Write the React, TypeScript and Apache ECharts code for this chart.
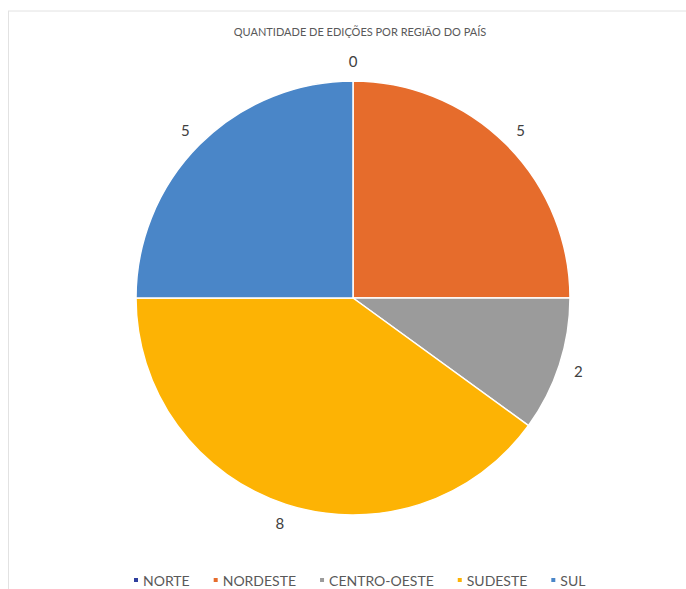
import React, { useEffect, useRef } from "react";
import * as echarts from "echarts";

const TITLE = "QUANTIDADE DE EDIÇÕES POR REGIÃO DO PAÍS";
const categories = ["NORTE", "NORDESTE", "CENTRO-OESTE", "SUDESTE", "SUL"];
const values = [0, 5, 2, 8, 5];
const colors = ["#2f3f9e", "#e66c2c", "#9b9b9b", "#fdb304", "#4a86c8"];

export default function App() {
  const ref = useRef<HTMLDivElement>(null);
  useEffect(() => {
    if (!ref.current) return;
    const chart = echarts.init(ref.current, null, { renderer: "svg" });
    const font = "Lato, 'Open Sans', sans-serif";
    chart.setOption({
      animation: false,
      backgroundColor: "#ffffff",
      color: colors,
      title: {
        text: TITLE,
        left: 355,
        top: 21,
        textAlign: "center",
        textStyle: { fontFamily: font, fontSize: 11, fontWeight: "normal", color: "#595959" },
      },
      legend: {
        data: categories,
        left: 127,
        top: 568,
        icon: "rect",
        itemWidth: 6,
        itemHeight: 6,
        itemGap: 22,
        textStyle: { fontFamily: font, fontSize: 14, color: "#595959", padding: [0, 0, 0, -1] },
      },
      graphic: [
        { type: "line", shape: { x1: 8, y1: 11, x2: 686, y2: 11 }, style: { stroke: "#e2e2e2", lineWidth: 1 } },
        { type: "line", shape: { x1: 8.5, y1: 11, x2: 8.5, y2: 589 }, style: { stroke: "#e2e2e2", lineWidth: 1 } },
      ],
      series: [
        {
          type: "pie",
          center: [353, 298],
          radius: 217,
          startAngle: 90,
          clockwise: true,
          avoidLabelOverlap: false,
          itemStyle: { borderColor: "#ffffff", borderWidth: 1.5 },
          label: {
            show: true,
            position: "outside",
            formatter: "{c}",
            fontFamily: font,
            fontSize: 15,
            color: "#404040",
          },
          labelLine: { show: true, length: 20, length2: 0, lineStyle: { opacity: 0, width: 0 } },
          labelLayout: (p: any) => {
            const pts = p.labelLinePoints;
            if (!pts || !pts[1]) return {};
            return { x: pts[1][0], y: pts[1][1], align: "center", verticalAlign: "middle" };
          },
          emphasis: { disabled: true },
          data: categories.map((name, i) => ({ name, value: values[i] })),
        },
      ],
    });
    return () => chart.dispose();
  }, []);
  return (
    <div
      ref={ref}
      style={{ position: "absolute", left: 0, top: 0, width: 686, height: 589 }}
    />
  );
}
